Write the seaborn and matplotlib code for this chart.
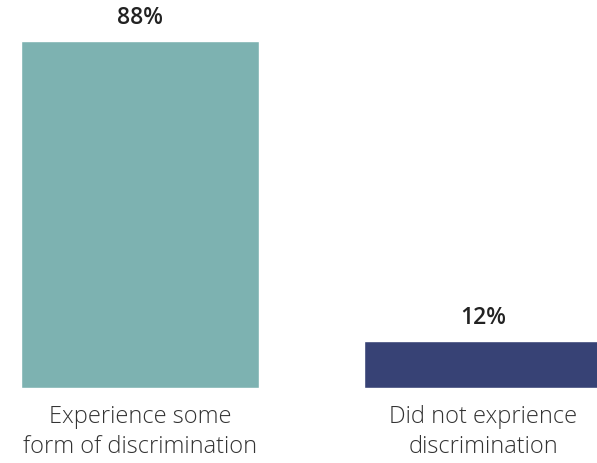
import pandas as pd
import seaborn as sns
import matplotlib.pyplot as plt

categories = ["Experience some\nform of discrimination", "Did not exprience\ndiscrimination"]
shares = [88, 12]
value_labels = ["88%", "12%"]
colors = ["#7db2b1", "#374275"]

sns.set_style("white")
plt.rcParams['font.family'] = ['Open Sans', 'DejaVu Sans']

df = pd.DataFrame({"cat": categories, "share": shares})

fig = plt.figure(figsize=(5.97, 4.63), dpi=100)
ax = fig.add_axes([0, 75 / 463, 1, 388 / 463])
sns.barplot(data=df, x="cat", y="share", hue="cat", palette=colors,
            width=0.694, saturation=1, legend=False, ax=ax)

ax.set_xlim(-140 / 343, 457 / 343)
ax.set_ylim(0, 388 / 3.943)
for cont, lab in zip(ax.containers, value_labels):
    ax.bar_label(cont, labels=[lab], padding=8, fontsize=16.5, fontweight='semibold', color='#222222')

ax.set_xlabel("")
ax.set_ylabel("")
ax.set_yticks([])
ax.tick_params(axis='x', length=0, pad=12, labelsize=17, labelcolor='#333333')
for t in ax.get_xticklabels():
    t.set_linespacing(1.35)
    t.set_fontweight('light')
sns.despine(ax=ax, left=True, bottom=True)

fig.savefig("out.png", dpi=100)
